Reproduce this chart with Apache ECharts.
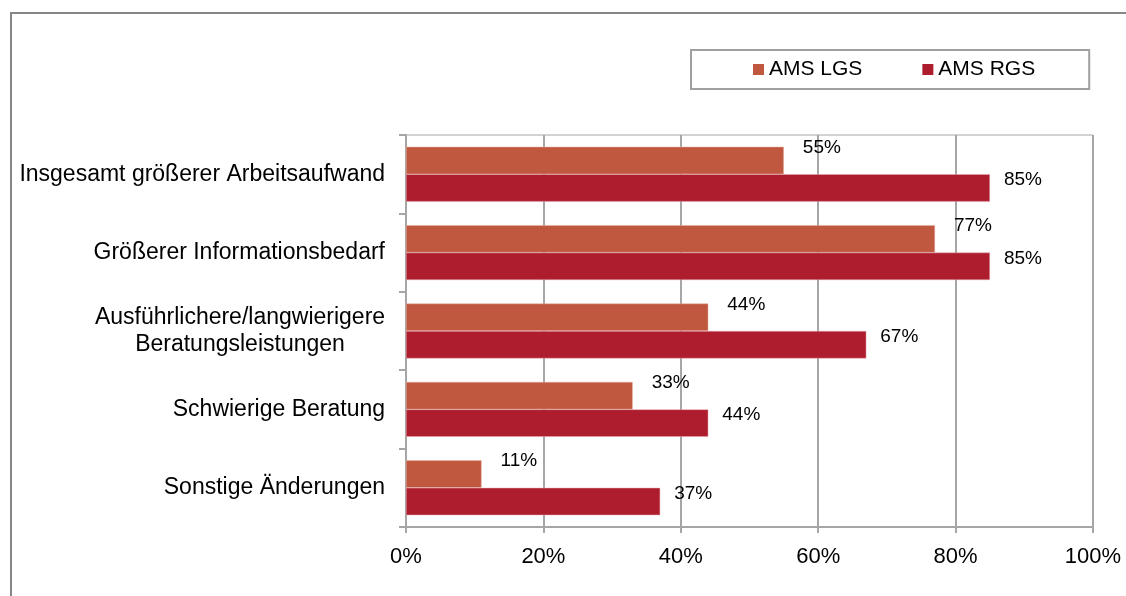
<!DOCTYPE html>
<html>
<head>
<meta charset="utf-8">
<script src="https://cdn.jsdelivr.net/npm/echarts@6/dist/echarts.min.js"></script>
<style>
  html, body { margin: 0; padding: 0; background: #fff; }
  #wrap { position: relative; width: 1126px; height: 596px; overflow: hidden; }
  #frame { position: absolute; left: 10px; top: 12px; width: 1300px; height: 800px; border: 2px solid #868686; box-sizing: border-box; }
  #chart { position: absolute; left: 0; top: 0; width: 1126px; height: 596px; }
</style>
</head>
<body>
<div id="wrap">
  <div id="frame"></div>
  <div id="chart"></div>
</div>
<script>
const categories = [
  'Insgesamt größerer Arbeitsaufwand',
  'Größerer Informationsbedarf',
  'Ausführlichere/langwierigere\nBeratungsleistungen',
  'Schwierige Beratung',
  'Sonstige Änderungen'
];
const lgsValues = [55, 77, 44, 33, 11];
const rgsValues = [85, 85, 67, 44, 37];
const xTicks = [0, 20, 40, 60, 80, 100];

const font = '"Liberation Sans", Arial, sans-serif';
const gridColor = '#a6a6a6';

const chart = echarts.init(document.getElementById('chart'));

const option = {
  backgroundColor: 'transparent',
  animation: false,
  textStyle: { fontFamily: font, color: '#000' },
  legend: {
    data: ['AMS LGS', 'AMS RGS'],
    left: 691,
    top: 50,
    padding: [9, 54, 9, 62],
    borderColor: '#a0a0a0',
    borderWidth: 2,
    icon: 'rect',
    itemWidth: 11,
    itemHeight: 11,
    itemGap: 60,
    itemStyle: { borderWidth: 0 },
    textStyle: { fontFamily: font, fontSize: 21, color: '#000' }
  },
  grid: {
    left: 406,
    right: 33,
    top: 135,
    bottom: 69,
    show: true,
    borderColor: gridColor,
    borderWidth: 1
  },
  xAxis: {
    type: 'value',
    min: xTicks[0],
    max: xTicks[xTicks.length - 1],
    interval: 20,
    axisLine: { show: true, lineStyle: { color: gridColor, width: 2 } },
    axisTick: { show: true, length: 6, lineStyle: { color: gridColor, width: 2 } },
    splitLine: { show: true, lineStyle: { color: gridColor, width: 2 } },
    axisLabel: {
      margin: 19,
      fontFamily: font,
      fontSize: 22,
      color: '#000',
      formatter: v => v + '%'
    }
  },
  yAxis: {
    type: 'category',
    inverse: true,
    data: categories,
    axisLine: { show: true, lineStyle: { color: gridColor, width: 2 } },
    axisTick: { show: true, length: 7, lineStyle: { color: gridColor, width: 2 } },
    axisLabel: {
      margin: 21,
      fontFamily: font,
      fontSize: 23,
      color: '#000',
      lineHeight: 27,
      formatter: v => {
        const lines = v.split('\n');
        if (lines.length === 1) return v;
        return lines.map(l => '{c|' + l + '}').join('\n');
      },
      rich: {
        c: { width: 290, align: 'center', fontSize: 23, fontFamily: font, color: '#000', lineHeight: 27 }
      }
    }
  },
  series: [
    {
      name: 'AMS LGS',
      type: 'bar',
      data: lgsValues,
      barGap: '0%',
      barCategoryGap: '30%',
      itemStyle: { color: '#c0573f', borderColor: '#e8b0a4', borderWidth: 0.5 },
      label: {
        show: true,
        position: 'right',
        offset: [14, -13],
        fontFamily: font,
        fontSize: 19,
        color: '#000',
        formatter: p => p.value + '%'
      }
    },
    {
      name: 'AMS RGS',
      type: 'bar',
      data: rgsValues,
      barGap: '0%',
      barCategoryGap: '30%',
      itemStyle: { color: '#ae1d2e', borderColor: '#e6a9b0', borderWidth: 0.5 },
      label: {
        show: true,
        position: 'right',
        offset: [9, -8],
        fontFamily: font,
        fontSize: 19,
        color: '#000',
        formatter: p => p.value + '%'
      }
    }
  ]
};

chart.setOption(option);
</script>
</body>
</html>
